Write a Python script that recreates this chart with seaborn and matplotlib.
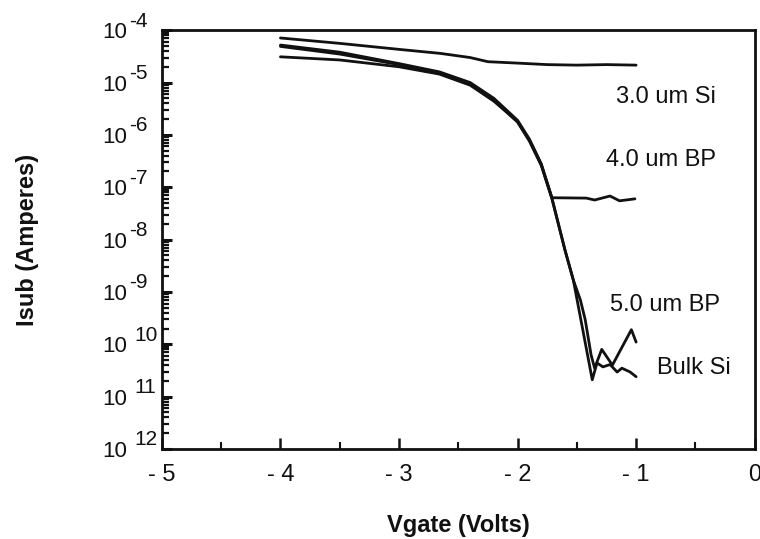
import numpy as np
import pandas as pd
import matplotlib
matplotlib.use("Agg")
import matplotlib.pyplot as plt
import matplotlib.ticker as mticker
import seaborn as sns

# curves (Vgate in volts, Isub in amperes)
vg_si30 = [-4.0, -3.5, -3.0, -2.65, -2.4, -2.25, -2.0, -1.75, -1.5, -1.25, -1.0]
isub_si30 = [7.1e-5, 5.6e-5, 4.3e-5, 3.6e-5, 3.0e-5, 2.5e-5, 2.35e-5, 2.2e-5, 2.15e-5, 2.2e-5, 2.15e-5]

vg_bp40 = [-4.0, -3.5, -3.0, -2.66, -2.4, -2.2, -2.0, -1.9, -1.8, -1.71,
           -1.42, -1.35, -1.22, -1.14, -1.01]
isub_bp40 = [5.2e-5, 3.8e-5, 2.3e-5, 1.6e-5, 1.0e-5, 5.0e-6, 1.9e-6, 8.3e-7, 2.8e-7, 6.3e-8,
             6.2e-8, 5.7e-8, 6.8e-8, 5.5e-8, 6.0e-8]

vg_bp50 = [-4.0, -3.5, -3.0, -2.66, -2.4, -2.2, -2.0, -1.9, -1.8, -1.71, -1.6, -1.53,
           -1.47, -1.43, -1.38, -1.35, -1.29, -1.2, -1.04, -1.0]
isub_bp50 = [4.9e-5, 3.5e-5, 2.2e-5, 1.5e-5, 9.3e-6, 4.6e-6, 1.75e-6, 7.6e-7, 2.6e-7, 6.0e-8,
             6.3e-9, 1.7e-9, 7.0e-10, 3.0e-10, 6.3e-11, 3.5e-11, 8.0e-11, 4.0e-11, 1.9e-10, 1.1e-10]

vg_bulk = [-4.0, -3.5, -3.0, -2.66, -2.4, -2.2, -2.0, -1.9, -1.8, -1.71, -1.6, -1.53,
           -1.45, -1.37, -1.33, -1.28, -1.22, -1.16, -1.12, -1.05, -1.0]
isub_bulk = [3.1e-5, 2.7e-5, 2.0e-5, 1.45e-5, 8.9e-6, 4.4e-6, 1.8e-6, 7.9e-7, 2.7e-7, 6.2e-8,
             6.3e-9, 1.7e-9, 1.9e-10, 2.1e-11, 4.4e-11, 3.7e-11, 4.1e-11, 2.95e-11, 3.5e-11,
             2.95e-11, 2.4e-11]

curve_labels = ["3.0 um Si", "4.0 um BP", "5.0 um BP", "Bulk Si"]
x_ticks = [-5, -4, -3, -2, -1, 0]
x_ticklabels = ["- 5", "- 4", "- 3", "- 2", "- 1", "0"]
y_ticks = [1e-12, 1e-11, 1e-10, 1e-9, 1e-8, 1e-7, 1e-6, 1e-5, 1e-4]
y_exponents = ["12", "11", "10", "-9", "-8", "-7", "-6", "-5", "-4"]

sns.set_theme(style="white")
plt.rcParams["font.family"] = ["Liberation Sans", "DejaVu Sans"]

INK = "#111111"
fig = plt.figure(figsize=(7.6, 5.39), dpi=100)
ax = fig.add_axes([0.213, 0.167, 0.780, 0.777])

curves = [(vg_si30, isub_si30), (vg_bp40, isub_bp40), (vg_bp50, isub_bp50), (vg_bulk, isub_bulk)]
for name, (vx, vy) in zip(curve_labels, curves):
    df = pd.DataFrame({"Vgate": vx, "Isub": vy})
    sns.lineplot(data=df, x="Vgate", y="Isub", ax=ax, color=INK,
                 linewidth=2.0, sort=False, estimator=None)

ax.set_yscale("log")
ax.set_xlim(-5, 0)
ax.set_ylim(1e-12, 1e-4)

# curve names written beside the right ends
label_pos = [(-1.17, 5.2e-6), (-1.25, 3.3e-7), (-1.22, 5.6e-10), (-0.82, 3.5e-11)]
for name, (tx, ty) in zip(curve_labels, label_pos):
    ax.text(tx, ty, name, fontsize=17, va="center", ha="left", color=INK)

ax.set_xticks(x_ticks)
ax.set_xticklabels(x_ticklabels)
ax.xaxis.set_minor_locator(mticker.MultipleLocator(0.5))
ax.set_yticks(y_ticks)
ax.set_yticklabels(["10"] * len(y_ticks))
ax.yaxis.set_minor_locator(mticker.LogLocator(base=10, subs=np.arange(2, 10), numticks=20))
ax.yaxis.set_minor_formatter(mticker.NullFormatter())

ax.tick_params(axis="x", which="major", direction="in", length=8, width=1.8,
               labelsize=17, pad=11, colors=INK, top=False, bottom=True)
ax.tick_params(axis="x", which="minor", direction="in", length=5, width=1.5,
               top=False, bottom=True, colors=INK)
ax.tick_params(axis="y", which="major", direction="in", length=7, width=2.2,
               labelsize=16, pad=43, colors=INK, left=True, right=False)
ax.tick_params(axis="y", which="minor", direction="in", length=5, width=1.6,
               left=True, right=False, colors=INK)
for lbl in ax.get_yticklabels():
    lbl.set_horizontalalignment("left")

# raised exponents next to each "10"
for val, ex in zip(y_ticks, y_exponents):
    dx = -33 if ex.startswith("-") else -28
    ax.annotate(ex, xy=(0, val), xycoords=("axes fraction", "data"),
                xytext=(dx, 9), textcoords="offset pixels", fontsize=15,
                ha="left", va="center", color=INK, annotation_clip=False, zorder=1)

for s in ax.spines.values():
    s.set_linewidth(2.0)
    s.set_color(INK)
    s.set_zorder(4)

ax.set_xlabel("Vgate (Volts)", fontsize=17, fontweight="bold", color=INK)
ax.set_ylabel("Isub (Amperes)", fontsize=17, fontweight="bold", color=INK)
ax.xaxis.set_label_coords(0.5, -0.155)
ax.yaxis.set_label_coords(-0.207, 0.5)

fig.savefig("out.png", dpi=100)
